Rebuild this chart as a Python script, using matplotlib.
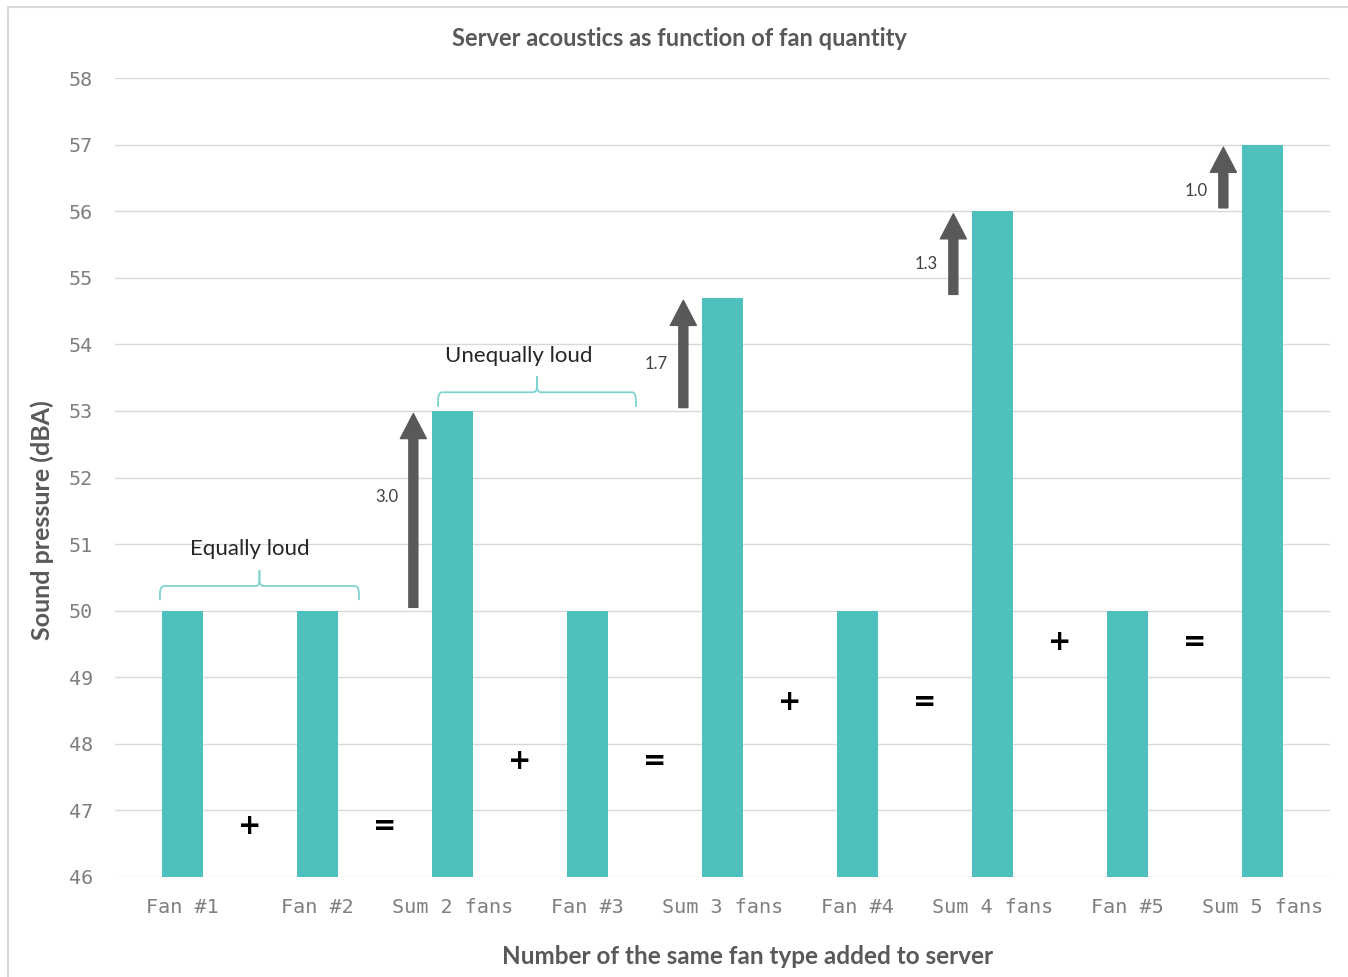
import matplotlib
matplotlib.use("Agg")
import matplotlib.pyplot as plt
from matplotlib.path import Path
from matplotlib.patches import PathPatch
from matplotlib.lines import Line2D

categories = ["Fan #1", "Fan #2", "Sum 2 fans", "Fan #3", "Sum 3 fans",
              "Fan #4", "Sum 4 fans", "Fan #5", "Sum 5 fans"]
values = [50, 50, 53, 50, 54.7, 50, 56, 50, 57]
arrow_labels = ["3.0", "1.7", "1.3", "1.0"]
arrow_start = [50, 53, 54.7, 56]
arrow_end = [53, 54.7, 56, 57]
arrow_bar_idx = [2, 4, 6, 8]
yticks = list(range(46, 59))

title = "Server acoustics as function of fan quantity"
ylabel = "Sound pressure (dBA)"
xlabel = "Number of the same fan type added to server"

BAR = "#4EC1BE"
DARK = "#595959"
GRID = "#D9D9D9"
BRACE = "#7FD4D0"

fig = plt.figure(figsize=(13.48, 9.77), dpi=100)
ax = fig.add_axes([115/1348, 100/977, 1215/1348, 799/977])

x = list(range(len(categories)))
ax.bar(x, values, width=0.31, color=BAR, zorder=2)
ax.set_xlim(-0.5, len(categories) - 0.5)
ax.set_ylim(46, 58)
ax.set_yticks(yticks)
ax.yaxis.grid(True, color=GRID, linewidth=1.0, zorder=0)
ax.set_axisbelow(True)
for s in ax.spines.values():
    s.set_visible(False)
ax.tick_params(length=0)
ax.set_xticks(x)
ax.set_xticklabels(categories, family="DejaVu Sans Mono", fontsize=14.5, color="#7F7F7F")
ax.set_yticklabels([str(t) for t in yticks], family="DejaVu Sans Mono", fontsize=14.5, color="#7F7F7F")
ax.tick_params(axis="x", pad=15)
ax.tick_params(axis="y", pad=16)

fig.text(679/1348, 1 - 38/977, title, ha="center", va="center", family="Lato",
         fontsize=17, fontweight="bold", color=DARK)
fig.text(42/1348, 1 - 520/977, ylabel, ha="center", va="center", rotation=90, family="Lato",
         fontsize=18, fontweight="bold", color=DARK)
fig.text(748/1348, 1 - 957/977, xlabel, ha="center", va="center", family="Lato",
         fontsize=17.5, fontweight="bold", color=DARK)

# arrows
label_dy = [0.2, -0.15, -0.15, -0.2]
for i, (b, y0, y1, lab) in enumerate(zip(arrow_bar_idx, arrow_start, arrow_end, arrow_labels)):
    xa = b - 0.29
    ax.annotate("", xy=(xa, y1 - 0.04), xytext=(xa, y0 + 0.05),
                arrowprops=dict(arrowstyle="simple,head_width=0.52,head_length=0.5,tail_width=0.18",
                                mutation_scale=36, color=DARK, shrinkA=0, shrinkB=0), zorder=3)
    ax.text(xa - 0.2, (y0 + y1) / 2 + label_dy[i], lab, ha="center", va="center",
            family="Lato", fontsize=12, color="#404040")

# operators
op_x_plus = [0.5, 2.5, 4.5, 6.5]
op_x_eq = [1.5, 3.5, 5.5, 7.5]
op_y = [46.77, 47.74, 48.63, 49.53]
for xp, xe, yy in zip(op_x_plus, op_x_eq, op_y):
    ax.text(xp, yy, "+", ha="center", va="center", fontsize=20, fontweight="bold", color="black")
    ax.text(xe, yy, "=", ha="center", va="center", fontsize=20, fontweight="bold", color="black")

# braces
def brace(x0, x1, yb, yl, yt, label, tx, ty):
    xc = (x0 + x1) / 2
    r = 0.03
    ry = (yl - yb) * 0.6
    codes = [Path.MOVETO, Path.LINETO, Path.CURVE3, Path.CURVE3,
             Path.LINETO, Path.CURVE3, Path.CURVE3, Path.LINETO]
    for xe, sgn in ((x0, 1), (x1, -1)):
        verts = [(xe, yb), (xe, yl - ry), (xe, yl), (xe + sgn * r, yl),
                 (xc - sgn * r, yl), (xc, yl), (xc, yl + ry * 0.7), (xc, yt)]
        ax.add_patch(PathPatch(Path(verts, codes), fill=False, edgecolor=BRACE, lw=1.3, zorder=3))
    ax.text(tx, ty, label, ha="center", va="center", family="Lato",
            fontsize=16, color="#262626")

brace(-0.167, 1.307, 50.16, 50.37, 50.61, "Equally loud", 0.50, 50.92)
brace(1.893, 3.359, 53.06, 53.28, 53.52, "Unequally loud", 2.49, 53.82)

# figure border
fig.add_artist(Line2D([8/1348, 8/1348], [0, 1 - 7/977], transform=fig.transFigure, color=GRID, lw=1.5))
fig.add_artist(Line2D([8/1348, 1], [1 - 7/977, 1 - 7/977], transform=fig.transFigure, color=GRID, lw=1.5))

fig.savefig("out.png", dpi=100)
